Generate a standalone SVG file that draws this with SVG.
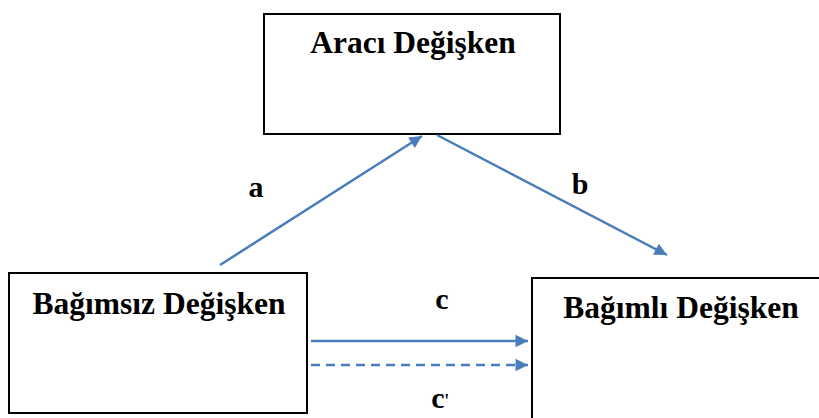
<svg xmlns="http://www.w3.org/2000/svg" width="819" height="418" viewBox="0 0 819 418">
<style>
.box{fill:#fff;stroke:#000;stroke-width:2}
.t{font-family:"Liberation Serif","Times New Roman",serif;font-weight:bold;fill:#000}
.node{font-size:31.5px}
.lbl{font-size:30px}
.c{stroke:#4A7EBB;stroke-width:2.5;fill:none}
</style>
<defs>
<marker id="ah" viewBox="0 0 10 10" refX="10" refY="5" markerWidth="6" markerHeight="5" orient="auto" markerUnits="strokeWidth">
<path d="M0,0 L10,5 L0,10 z" fill="#4A7EBB"/>
</marker>
</defs>
<g id="aracı">
<rect class="box" x="264" y="14" width="296" height="120"/>
<text class="t node" x="413" y="53" text-anchor="middle">Aracı Değişken</text>
</g>
<g id="bagimsiz">
<rect class="box" x="9" y="273" width="298" height="140"/>
<text class="t node" x="159" y="314" text-anchor="middle">Bağımsız Değişken</text>
</g>
<g id="bagimli">
<rect class="box" x="532" y="278" width="300" height="150"/>
<text class="t node" x="681" y="318" text-anchor="middle">Bağımlı Değişken</text>
</g>
<g id="connectors">
<line class="c" x1="220" y1="265" x2="422" y2="136" marker-end="url(#ah)"/>
<line class="c" x1="437" y1="135" x2="667" y2="255" marker-end="url(#ah)"/>
<line class="c" x1="311" y1="341" x2="528" y2="341" marker-end="url(#ah)"/>
<line class="c" x1="311" y1="365" x2="528" y2="365" stroke-dasharray="9,6" marker-end="url(#ah)"/>
<text class="t lbl" x="256" y="197" text-anchor="middle">a</text>
<text class="t lbl" x="580" y="194" text-anchor="middle">b</text>
<text class="t lbl" x="442" y="309" text-anchor="middle">c</text>
<text class="t lbl" x="440" y="408" text-anchor="middle">c<tspan font-size="22" font-weight="normal">'</tspan></text>
</g>
</svg>
